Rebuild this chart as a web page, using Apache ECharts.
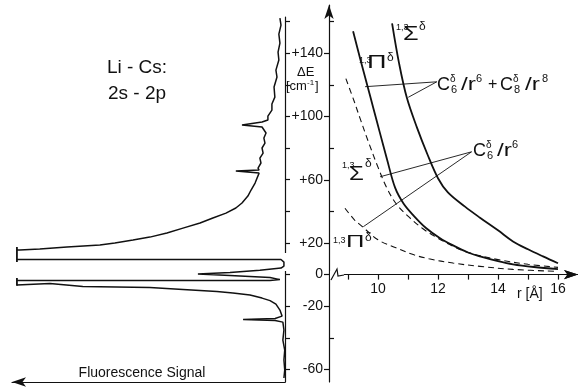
<!DOCTYPE html>
<html>
<head>
<meta charset="utf-8">
<script src="https://cdn.jsdelivr.net/npm/echarts@6/dist/echarts.min.js"></script>
<style>
  html, body { margin: 0; padding: 0; background: #fff; }
  #chart { width: 578px; height: 387px; }
</style>
</head>
<body>
<div id="chart"></div>
<script>
// ΔE axis [cm-1]
const dETicks = [-60, -40, -20, 0, 20, 40, 60, 80, 100, 120, 140, 160];
const dELabels = [-60, -20, 0, 20, 60, 100, 140];
const dEInnerTicks = [-40, 40, 80, 120, 160];
// r axis [Å]
const rTicks = [9, 10, 11, 12, 13, 14, 15, 16];
const rLabels = [10, 12, 14, 16];

// 1,3Σ  C6/r6 + C8/r8 (solid)
const sigmaFullR = [10.47, 10.7, 10.96, 11.3, 11.65, 12.0, 12.33, 12.9, 13.4, 14.0, 14.5, 15.0, 15.5, 16.0];
const sigmaFullE = [159, 134, 112, 93, 76, 61, 52, 43, 36, 28, 21, 16, 11.5, 7.2];
// 1,3Π  C6/r6 + C8/r8 (solid)
const piFullR = [9.17, 9.4, 9.64, 9.85, 10.06, 10.3, 10.57, 10.85, 11.18, 11.6, 12.07, 12.5, 13.0, 13.4, 14.0, 14.5, 15.2, 16.0];
const piFullE = [154, 137, 120, 105, 90, 73, 55, 45, 37.5, 29.5, 23, 18.5, 14, 11.5, 8.5, 6.5, 4.8, 3.4];
// 1,3Σ  C6/r6 only (dashed)
const sigmaC6R = [8.93, 9.2, 9.4, 9.7, 10.0, 10.29, 10.6, 11.0, 11.5, 12.0, 12.5, 13.0, 14.0, 15.0, 16.0];
const sigmaC6E = [124, 110, 99, 83, 68, 55, 45, 37, 29, 23, 18, 14, 9.5, 6.5, 4.6];
// 1,3Π  C6/r6 only (dashed)
const piC6R = [8.9, 9.2, 9.5, 10.0, 10.6, 11.2, 11.7, 12.5, 13.4, 14.5, 16.0];
const piC6E = [42, 35, 30, 22, 17, 12.5, 10, 7.3, 5.2, 3.3, 2.0];

// fluorescence trace: signal (arb. units, grows to the left) vs ΔE
const specSignal = [1.9, 1.5, 2.3, 1.9, 2.6, 2.3, 3.4, 3.0, 4.1, 3.8, 4.9, 4.9, 6.4, 6.4, 8.6, 16.1, 8.6, 7.1, 7.9, 7.5,
  8.6, 8.2, 9.4, 9.0, 10.1, 9.7, 18.4, 9.7, 11.2, 12.7, 13.9, 16.1, 18.4, 22.1, 27.0, 31.8, 38.2, 44.2, 50.6, 56.9,
  63.7, 69.3, 81.6, 91.8, 99.3, 100.4, 100.4, 100.4, 100.4, 1.5, 0.4, 0.4, 1.5, 9.4, 20.6, 32.6, 20.6, 5.6, 1.9, 5.6,
  100.4, 100.4, 100.4, 100.4, 88.0, 75.7, 50.6, 38.2, 25.5, 19.5, 13.1, 8.6, 5.6, 3.4, 1.9, 1.1, 3.7, 15.7, 3.7, 0.8,
  0.4, 0.8, 0.1, 0.4, 0.1, 0.4];
const specDE = [162.3, 157.9, 152.2, 146.5, 140.8, 135.8, 129.4, 125.0, 118.7, 112.3, 107.9, 104.1, 100.3, 97.8, 96.5, 94.6, 93.4, 89.6, 86.4, 83.2,
  80.1, 76.9, 73.7, 70.6, 67.4, 66.1, 65.5, 64.2, 57.9, 53.5, 49.7, 45.3, 42.1, 38.9, 35.8, 32.6, 29.4, 26.3, 23.7, 21.8,
  19.9, 18.7, 17.4, 16.1, 15.5, 15.5, 17.4, 7.9, 9.5, 9.5, 7.9, 5.4, 4.1, 2.8, 1.3, 0.3, -0.6, -1.9, -3.2, -3.7,
  -3.7, -2.2, -6.6, -5.4, -5.7, -7.6, -8.2, -9.5, -10.8, -11.7, -13.0, -14.9, -16.5, -18.7, -22.5, -26.3, -27.8, -28.5, -29.1, -30.1,
  -35.1, -41.5, -47.8, -54.1, -60.4, -65.5];

// leader lines from the formula labels to the curves
const leaderFull = [[[11.96, 122], [9.57, 118.9]], [[11.96, 122], [11.01, 112.2]]];
const leaderC6 = [[[13.12, 77.7], [10.07, 61.9]], [[13.12, 77.7], [9.51, 30.3]]];

const FONT = 'Liberation Sans';
const INK = '#111';
const zip = (a, b) => a.map((v, i) => [v, b[i]]);

const chart = echarts.init(document.getElementById('chart'), null, { renderer: 'canvas' });

function txt(x, y, text, size, align, sx) {
  return {
    type: 'text', x: x, y: y, z: 20, scaleX: sx || 1,
    style: { text: text, fontSize: size, fontFamily: FONT, fill: INK, align: align || 'left', verticalAlign: 'top' }
  };
}

// curves live in grid 2 (upper part of the right panel, r axis along ΔE = 0)
const curveSeries = (name, r, e, dashed) => ({
  name: name, type: 'line', xAxisIndex: 2, yAxisIndex: 3,
  data: zip(r, e), smooth: 0.35, symbol: 'none', clip: false,
  lineStyle: dashed ? { color: INK, width: 1.1, type: [6, 4] } : { color: INK, width: 1.8 }
});

const leaderSeries = (pts) => ({
  type: 'line', xAxisIndex: 2, yAxisIndex: 3, data: pts, symbol: 'none',
  lineStyle: { color: INK, width: 0.9 }, z: 3
});

const axisLineStyle = { color: INK, width: 1.2 };

// r axis baseline with arrow + its ticks, drawn as mark lines on the ΔE = 0 level
const rAxisMarks = {
  type: 'line', xAxisIndex: 2, yAxisIndex: 3, data: [], clip: false, silent: true,
  markLine: {
    silent: true, animation: false, symbol: 'none', label: { show: false },
    lineStyle: { color: INK, width: 1.2, type: 'solid' },
    data: [
      [{ coord: [8.85, 0], symbol: 'none' }, { coord: [16.667, 0], symbol: 'arrow', symbolSize: [7, 14] }]
    ].concat(rTicks.map((r) => [{ coord: [r, 0] }, { coord: [r, -3.2] }]))
  }
};

const option = {
  backgroundColor: '#fff',
  animation: false,
  grid: [
    { left: 12, right: 293, top: 17, bottom: 5 },
    { left: 329, right: 0, top: 5, bottom: 5 },
    { left: 329, right: 0, top: 5, bottom: 112.4 }
  ],
  xAxis: [
    {
      gridIndex: 0, type: 'value', min: 0, max: 102.2, inverse: true,
      axisLine: { show: true, onZero: false, symbol: ['arrow', 'none'], symbolSize: [7, 14], lineStyle: axisLineStyle },
      axisTick: { show: false }, axisLabel: { show: false }, splitLine: { show: false }
    },
    {
      gridIndex: 1, type: 'value', min: 0, max: 1, show: false
    },
    {
      gridIndex: 2, type: 'value', min: 8.367, max: 16.667, position: 'bottom',
      axisLine: { show: true, onZero: false, symbol: ['none', 'arrow'], symbolSize: [7, 14], lineStyle: axisLineStyle },
      axisTick: { show: true, customValues: rTicks, length: 5, lineStyle: axisLineStyle },
      axisLabel: { customValues: rLabels, color: INK, fontSize: 14, fontFamily: FONT, margin: 8 },
      splitLine: { show: false }
    }
  ],
  yAxis: [
    {
      gridIndex: 0, type: 'value', position: 'right', min: -68, max: 163,
      axisLine: { show: true, onZero: false, lineStyle: axisLineStyle },
      axisTick: { show: true, customValues: dETicks, length: 5, lineStyle: axisLineStyle },
      axisLabel: { show: false }, splitLine: { show: false }
    },
    {
      gridIndex: 1, type: 'value', position: 'left', min: -68, max: 170.6,
      axisLine: { show: true, onZero: false, symbol: ['none', 'arrow'], symbolSize: [7, 14], lineStyle: axisLineStyle },
      axisTick: { show: true, customValues: dELabels, length: 5, lineStyle: axisLineStyle },
      axisLabel: {
        customValues: dELabels, color: INK, fontSize: 14, fontFamily: FONT, margin: 6,
        formatter: (v) => (v > 0 ? '+' + v : '' + v)
      },
      splitLine: { show: false }
    },
    {
      gridIndex: 1, type: 'value', position: 'left', min: -68, max: 170.6,
      axisLine: { show: false, onZero: false },
      axisTick: { show: true, inside: true, customValues: dEInnerTicks, length: 5, lineStyle: axisLineStyle },
      axisLabel: { show: false }, splitLine: { show: false }
    },
    {
      gridIndex: 2, type: 'value', min: 0, max: 170.6, show: false
    }
  ],
  series: [
    {
      name: 'spectrum', type: 'line', xAxisIndex: 0, yAxisIndex: 0,
      data: zip(specSignal, specDE), symbol: 'none',
      lineStyle: { color: INK, width: 1.5 }
    },
    curveSeries('sigmaFull', sigmaFullR, sigmaFullE, false),
    curveSeries('piFull', piFullR, piFullE, false),
    curveSeries('sigmaC6', sigmaC6R, sigmaC6E, true),
    curveSeries('piC6', piC6R, piC6E, true),
    leaderSeries(leaderFull[0]), leaderSeries(leaderFull[1]),
    leaderSeries(leaderC6[0]), leaderSeries(leaderC6[1]),
    rAxisMarks
  ],
  graphic: [
    // title
    txt(137, 58, 'Li - Cs:', 19, 'center'),
    txt(137, 84, '2s - 2p', 19, 'center'),
    // axis names
    txt(142, 366, 'Fluorescence Signal', 14, 'center'),
    txt(297, 66, 'ΔE', 13),
    txt(286, 80, '[cm', 13), txt(307, 79, '-1', 8), txt(315, 80, ']', 13),
    txt(517, 287, 'r [Å]', 14),
    // 1,3Σδ top
    txt(396, 23, '1,3', 9), txt(403, 24, 'Σ', 21, 'left', 1.2), txt(419, 21, 'δ', 12),
    // 1,3Πδ upper
    txt(359, 56, '1,3', 9), txt(367, 54, 'Π', 18, 'left', 1.5), txt(387, 52, 'δ', 12),
    // 1,3Σδ middle
    txt(342, 161, '1,3', 9), txt(349, 164, 'Σ', 20, 'left', 1.2), txt(365, 158, 'δ', 12),
    // 1,3Πδ lower
    txt(333, 236, '1,3', 9), txt(346, 234, 'Π', 17, 'left', 1.5), txt(365, 232, 'δ', 12),
    // C6/r6 + C8/r8
    txt(437, 76, 'C', 18), txt(450, 74, 'δ', 10), txt(451, 84, '6', 11), txt(461, 76, '/r', 18, 'left', 1.35), txt(476, 73, '6', 11),
    txt(488, 77, '+', 16),
    txt(500, 76, 'C', 18), txt(513, 74, 'δ', 10), txt(514, 84, '8', 11), txt(525, 76, '/r', 18, 'left', 1.35), txt(542, 73, '8', 11),
    // C6/r6
    txt(473, 142, 'C', 18), txt(486, 140, 'δ', 10), txt(487, 150, '6', 11), txt(497, 142, '/r', 18, 'left', 1.35), txt(512, 139, '6', 11),
    // axis break on the r axis
    { type: 'rect', z: 20, shape: { x: 330, y: 271, width: 14, height: 8 }, style: { fill: '#fff' } },
    { type: 'polyline', z: 21, shape: { points: [[331, 280], [337, 269], [338, 276], [344, 275]] }, style: { stroke: INK, lineWidth: 1.2, fill: null } },
    // gap in the left ΔE axis where the trace is clipped
    { type: 'rect', z: 1, shape: { x: 283.5, y: 253, width: 4, height: 18 }, style: { fill: '#fff' } },
    // left-end markers of the clipped trace
    { type: 'line', z: 21, shape: { x1: 17, y1: 247, x2: 17, y2: 262 }, style: { stroke: INK, lineWidth: 1.2 } },
    { type: 'line', z: 21, shape: { x1: 17, y1: 278, x2: 17, y2: 286 }, style: { stroke: INK, lineWidth: 1.2 } }
  ]
};

chart.setOption(option);
</script>
</body>
</html>
